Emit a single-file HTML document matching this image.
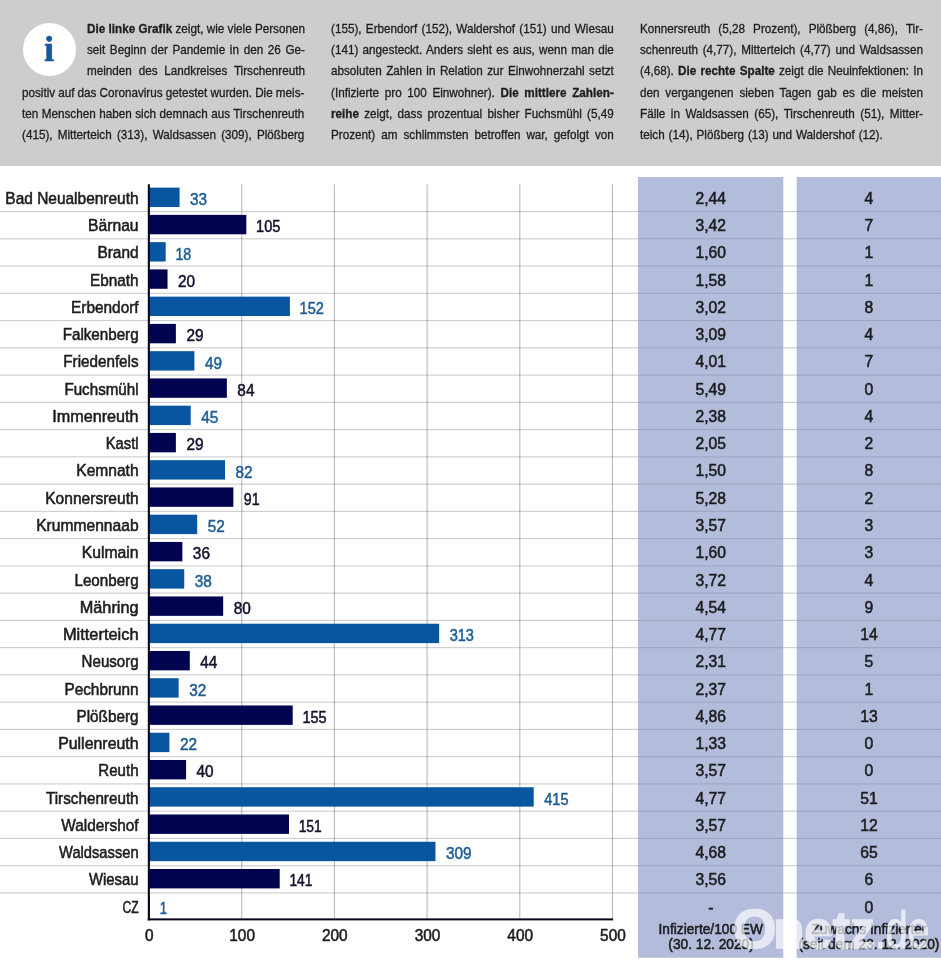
<!DOCTYPE html>
<html lang="de"><head><meta charset="utf-8"><title>Corona im Landkreis Tirschenreuth</title>
<style>
html,body{margin:0;padding:0;background:#fff}
body{width:941px;height:960px;position:relative;overflow:hidden;font-family:"Liberation Sans",sans-serif}
.hdr{position:absolute;left:0;top:0;width:941px;height:165.6px;background:#cecdcb}
.ico{position:absolute;left:22.5px;top:22.5px;width:53px;height:53px;border-radius:50%;background:#fff}
.ico span{position:absolute;left:0;top:7.8px;width:53px;text-align:center;font-family:"Liberation Serif",serif;font-weight:bold;font-size:35px;line-height:40px;color:#15589a;-webkit-text-stroke:0.7px #15589a}
.ln{-webkit-text-stroke:0.3px #1d1d1f;position:absolute;height:20px;line-height:20px;font-size:12.2px;color:#1d1d1f;white-space:nowrap;text-align:justify;text-align-last:justify;word-spacing:-1.0px;transform:scaleX(0.96);transform-origin:0 0}
.ln b{font-weight:bold}
svg{position:absolute;left:0;top:0}
svg text{font-family:"Liberation Sans",sans-serif}
</style></head><body>
<div class="hdr"></div>
<div class="ico"><span>i</span></div>
<div class="ln" style="left:86.6px;top:18.90px;width:227.08px"><b>Die linke Grafik</b> zeigt, wie viele Personen</div>
<div class="ln" style="left:86.6px;top:40.12px;width:227.08px">seit Beginn der Pandemie in den 26 Ge-</div>
<div class="ln" style="left:86.6px;top:61.34px;width:227.08px">meinden des Landkreises Tirschenreuth</div>
<div class="ln" style="left:22.2px;top:82.56px;width:294.17px">positiv auf das Coronavirus getestet wurden. Die meis-</div>
<div class="ln" style="left:22.2px;top:103.78px;width:294.17px">ten Menschen haben sich demnach aus Tirschenreuth</div>
<div class="ln" style="left:22.2px;top:125.00px;width:294.17px">(415), Mitterteich (313), Waldsassen (309), Plößberg</div>
<div class="ln" style="left:330.9px;top:18.90px;width:294.58px">(155), Erbendorf (152), Waldershof (151) und Wiesau</div>
<div class="ln" style="left:330.9px;top:40.12px;width:294.58px">(141) angesteckt. Anders sieht es aus, wenn man die</div>
<div class="ln" style="left:330.9px;top:61.34px;width:294.58px">absoluten Zahlen in Relation zur Einwohnerzahl setzt</div>
<div class="ln" style="left:330.9px;top:82.56px;width:294.58px">(Infizierte pro 100 Einwohner). <b>Die mittlere Zahlen-</b></div>
<div class="ln" style="left:330.9px;top:103.78px;width:294.58px"><b>reihe</b> zeigt, dass prozentual bisher Fuchsmühl (5,49</div>
<div class="ln" style="left:330.9px;top:125.00px;width:294.58px">Prozent) am schlimmsten betroffen war, gefolgt von</div>
<div class="ln" style="left:639.9px;top:18.90px;width:294.79px">Konnersreuth (5,28 Prozent), Plößberg (4,86), Tir-</div>
<div class="ln" style="left:639.9px;top:40.12px;width:294.79px">schenreuth (4,77), Mitterteich (4,77) und Waldsassen</div>
<div class="ln" style="left:639.9px;top:61.34px;width:294.79px">(4,68). <b>Die rechte Spalte</b> zeigt die Neuinfektionen: In</div>
<div class="ln" style="left:639.9px;top:82.56px;width:294.79px">den vergangenen sieben Tagen gab es die meisten</div>
<div class="ln" style="left:639.9px;top:103.78px;width:294.79px">Fälle in Waldsassen (65), Tirschenreuth (51), Mitter-</div>
<div class="ln" style="left:639.9px;top:125.00px;width:252.81px">teich (14), Plößberg (13) und Waldershof (12).</div>
<svg width="941" height="960" viewBox="0 0 941 960">
<rect x="638" y="177" width="145.3" height="780.8" fill="#b3bddb"/>
<rect x="796.7" y="177" width="144.3" height="780.8" fill="#b3bddb"/>
<rect x="0" y="211.00" width="638.0" height="1.1" fill="#000" fill-opacity="0.2"/>
<rect x="638" y="211.00" width="145.3" height="1.1" fill="#000" fill-opacity="0.12"/>
<rect x="783.3" y="211.00" width="13.4" height="1.1" fill="#000" fill-opacity="0.2"/>
<rect x="796.7" y="211.00" width="144.3" height="1.1" fill="#000" fill-opacity="0.12"/>
<rect x="0" y="238.26" width="638.0" height="1.1" fill="#000" fill-opacity="0.2"/>
<rect x="638" y="238.26" width="145.3" height="1.1" fill="#000" fill-opacity="0.12"/>
<rect x="783.3" y="238.26" width="13.4" height="1.1" fill="#000" fill-opacity="0.2"/>
<rect x="796.7" y="238.26" width="144.3" height="1.1" fill="#000" fill-opacity="0.12"/>
<rect x="0" y="265.51" width="638.0" height="1.1" fill="#000" fill-opacity="0.2"/>
<rect x="638" y="265.51" width="145.3" height="1.1" fill="#000" fill-opacity="0.12"/>
<rect x="783.3" y="265.51" width="13.4" height="1.1" fill="#000" fill-opacity="0.2"/>
<rect x="796.7" y="265.51" width="144.3" height="1.1" fill="#000" fill-opacity="0.12"/>
<rect x="0" y="292.77" width="638.0" height="1.1" fill="#000" fill-opacity="0.2"/>
<rect x="638" y="292.77" width="145.3" height="1.1" fill="#000" fill-opacity="0.12"/>
<rect x="783.3" y="292.77" width="13.4" height="1.1" fill="#000" fill-opacity="0.2"/>
<rect x="796.7" y="292.77" width="144.3" height="1.1" fill="#000" fill-opacity="0.12"/>
<rect x="0" y="320.03" width="638.0" height="1.1" fill="#000" fill-opacity="0.2"/>
<rect x="638" y="320.03" width="145.3" height="1.1" fill="#000" fill-opacity="0.12"/>
<rect x="783.3" y="320.03" width="13.4" height="1.1" fill="#000" fill-opacity="0.2"/>
<rect x="796.7" y="320.03" width="144.3" height="1.1" fill="#000" fill-opacity="0.12"/>
<rect x="0" y="347.28" width="638.0" height="1.1" fill="#000" fill-opacity="0.2"/>
<rect x="638" y="347.28" width="145.3" height="1.1" fill="#000" fill-opacity="0.12"/>
<rect x="783.3" y="347.28" width="13.4" height="1.1" fill="#000" fill-opacity="0.2"/>
<rect x="796.7" y="347.28" width="144.3" height="1.1" fill="#000" fill-opacity="0.12"/>
<rect x="0" y="374.54" width="638.0" height="1.1" fill="#000" fill-opacity="0.2"/>
<rect x="638" y="374.54" width="145.3" height="1.1" fill="#000" fill-opacity="0.12"/>
<rect x="783.3" y="374.54" width="13.4" height="1.1" fill="#000" fill-opacity="0.2"/>
<rect x="796.7" y="374.54" width="144.3" height="1.1" fill="#000" fill-opacity="0.12"/>
<rect x="0" y="401.79" width="638.0" height="1.1" fill="#000" fill-opacity="0.2"/>
<rect x="638" y="401.79" width="145.3" height="1.1" fill="#000" fill-opacity="0.12"/>
<rect x="783.3" y="401.79" width="13.4" height="1.1" fill="#000" fill-opacity="0.2"/>
<rect x="796.7" y="401.79" width="144.3" height="1.1" fill="#000" fill-opacity="0.12"/>
<rect x="0" y="429.05" width="638.0" height="1.1" fill="#000" fill-opacity="0.2"/>
<rect x="638" y="429.05" width="145.3" height="1.1" fill="#000" fill-opacity="0.12"/>
<rect x="783.3" y="429.05" width="13.4" height="1.1" fill="#000" fill-opacity="0.2"/>
<rect x="796.7" y="429.05" width="144.3" height="1.1" fill="#000" fill-opacity="0.12"/>
<rect x="0" y="456.30" width="638.0" height="1.1" fill="#000" fill-opacity="0.2"/>
<rect x="638" y="456.30" width="145.3" height="1.1" fill="#000" fill-opacity="0.12"/>
<rect x="783.3" y="456.30" width="13.4" height="1.1" fill="#000" fill-opacity="0.2"/>
<rect x="796.7" y="456.30" width="144.3" height="1.1" fill="#000" fill-opacity="0.12"/>
<rect x="0" y="483.56" width="638.0" height="1.1" fill="#000" fill-opacity="0.2"/>
<rect x="638" y="483.56" width="145.3" height="1.1" fill="#000" fill-opacity="0.12"/>
<rect x="783.3" y="483.56" width="13.4" height="1.1" fill="#000" fill-opacity="0.2"/>
<rect x="796.7" y="483.56" width="144.3" height="1.1" fill="#000" fill-opacity="0.12"/>
<rect x="0" y="510.81" width="638.0" height="1.1" fill="#000" fill-opacity="0.2"/>
<rect x="638" y="510.81" width="145.3" height="1.1" fill="#000" fill-opacity="0.12"/>
<rect x="783.3" y="510.81" width="13.4" height="1.1" fill="#000" fill-opacity="0.2"/>
<rect x="796.7" y="510.81" width="144.3" height="1.1" fill="#000" fill-opacity="0.12"/>
<rect x="0" y="538.07" width="638.0" height="1.1" fill="#000" fill-opacity="0.2"/>
<rect x="638" y="538.07" width="145.3" height="1.1" fill="#000" fill-opacity="0.12"/>
<rect x="783.3" y="538.07" width="13.4" height="1.1" fill="#000" fill-opacity="0.2"/>
<rect x="796.7" y="538.07" width="144.3" height="1.1" fill="#000" fill-opacity="0.12"/>
<rect x="0" y="565.32" width="638.0" height="1.1" fill="#000" fill-opacity="0.2"/>
<rect x="638" y="565.32" width="145.3" height="1.1" fill="#000" fill-opacity="0.12"/>
<rect x="783.3" y="565.32" width="13.4" height="1.1" fill="#000" fill-opacity="0.2"/>
<rect x="796.7" y="565.32" width="144.3" height="1.1" fill="#000" fill-opacity="0.12"/>
<rect x="0" y="592.58" width="638.0" height="1.1" fill="#000" fill-opacity="0.2"/>
<rect x="638" y="592.58" width="145.3" height="1.1" fill="#000" fill-opacity="0.12"/>
<rect x="783.3" y="592.58" width="13.4" height="1.1" fill="#000" fill-opacity="0.2"/>
<rect x="796.7" y="592.58" width="144.3" height="1.1" fill="#000" fill-opacity="0.12"/>
<rect x="0" y="619.83" width="638.0" height="1.1" fill="#000" fill-opacity="0.2"/>
<rect x="638" y="619.83" width="145.3" height="1.1" fill="#000" fill-opacity="0.12"/>
<rect x="783.3" y="619.83" width="13.4" height="1.1" fill="#000" fill-opacity="0.2"/>
<rect x="796.7" y="619.83" width="144.3" height="1.1" fill="#000" fill-opacity="0.12"/>
<rect x="0" y="647.09" width="638.0" height="1.1" fill="#000" fill-opacity="0.2"/>
<rect x="638" y="647.09" width="145.3" height="1.1" fill="#000" fill-opacity="0.12"/>
<rect x="783.3" y="647.09" width="13.4" height="1.1" fill="#000" fill-opacity="0.2"/>
<rect x="796.7" y="647.09" width="144.3" height="1.1" fill="#000" fill-opacity="0.12"/>
<rect x="0" y="674.34" width="638.0" height="1.1" fill="#000" fill-opacity="0.2"/>
<rect x="638" y="674.34" width="145.3" height="1.1" fill="#000" fill-opacity="0.12"/>
<rect x="783.3" y="674.34" width="13.4" height="1.1" fill="#000" fill-opacity="0.2"/>
<rect x="796.7" y="674.34" width="144.3" height="1.1" fill="#000" fill-opacity="0.12"/>
<rect x="0" y="701.60" width="638.0" height="1.1" fill="#000" fill-opacity="0.2"/>
<rect x="638" y="701.60" width="145.3" height="1.1" fill="#000" fill-opacity="0.12"/>
<rect x="783.3" y="701.60" width="13.4" height="1.1" fill="#000" fill-opacity="0.2"/>
<rect x="796.7" y="701.60" width="144.3" height="1.1" fill="#000" fill-opacity="0.12"/>
<rect x="0" y="728.85" width="638.0" height="1.1" fill="#000" fill-opacity="0.2"/>
<rect x="638" y="728.85" width="145.3" height="1.1" fill="#000" fill-opacity="0.12"/>
<rect x="783.3" y="728.85" width="13.4" height="1.1" fill="#000" fill-opacity="0.2"/>
<rect x="796.7" y="728.85" width="144.3" height="1.1" fill="#000" fill-opacity="0.12"/>
<rect x="0" y="756.11" width="638.0" height="1.1" fill="#000" fill-opacity="0.2"/>
<rect x="638" y="756.11" width="145.3" height="1.1" fill="#000" fill-opacity="0.12"/>
<rect x="783.3" y="756.11" width="13.4" height="1.1" fill="#000" fill-opacity="0.2"/>
<rect x="796.7" y="756.11" width="144.3" height="1.1" fill="#000" fill-opacity="0.12"/>
<rect x="0" y="783.36" width="638.0" height="1.1" fill="#000" fill-opacity="0.2"/>
<rect x="638" y="783.36" width="145.3" height="1.1" fill="#000" fill-opacity="0.12"/>
<rect x="783.3" y="783.36" width="13.4" height="1.1" fill="#000" fill-opacity="0.2"/>
<rect x="796.7" y="783.36" width="144.3" height="1.1" fill="#000" fill-opacity="0.12"/>
<rect x="0" y="810.62" width="638.0" height="1.1" fill="#000" fill-opacity="0.2"/>
<rect x="638" y="810.62" width="145.3" height="1.1" fill="#000" fill-opacity="0.12"/>
<rect x="783.3" y="810.62" width="13.4" height="1.1" fill="#000" fill-opacity="0.2"/>
<rect x="796.7" y="810.62" width="144.3" height="1.1" fill="#000" fill-opacity="0.12"/>
<rect x="0" y="837.87" width="638.0" height="1.1" fill="#000" fill-opacity="0.2"/>
<rect x="638" y="837.87" width="145.3" height="1.1" fill="#000" fill-opacity="0.12"/>
<rect x="783.3" y="837.87" width="13.4" height="1.1" fill="#000" fill-opacity="0.2"/>
<rect x="796.7" y="837.87" width="144.3" height="1.1" fill="#000" fill-opacity="0.12"/>
<rect x="0" y="865.12" width="638.0" height="1.1" fill="#000" fill-opacity="0.2"/>
<rect x="638" y="865.12" width="145.3" height="1.1" fill="#000" fill-opacity="0.12"/>
<rect x="783.3" y="865.12" width="13.4" height="1.1" fill="#000" fill-opacity="0.2"/>
<rect x="796.7" y="865.12" width="144.3" height="1.1" fill="#000" fill-opacity="0.12"/>
<rect x="0" y="892.38" width="638.0" height="1.1" fill="#000" fill-opacity="0.2"/>
<rect x="638" y="892.38" width="145.3" height="1.1" fill="#000" fill-opacity="0.12"/>
<rect x="783.3" y="892.38" width="13.4" height="1.1" fill="#000" fill-opacity="0.2"/>
<rect x="796.7" y="892.38" width="144.3" height="1.1" fill="#000" fill-opacity="0.12"/>
<rect x="241.10" y="184.3" width="1.2" height="735.88" fill="#000" fill-opacity="0.25"/>
<rect x="333.80" y="184.3" width="1.2" height="735.88" fill="#000" fill-opacity="0.25"/>
<rect x="426.50" y="184.3" width="1.2" height="735.88" fill="#000" fill-opacity="0.25"/>
<rect x="519.20" y="184.3" width="1.2" height="735.88" fill="#000" fill-opacity="0.25"/>
<rect x="611.90" y="184.3" width="1.2" height="735.88" fill="#000" fill-opacity="0.25"/>
<rect x="149.0" y="187.63" width="30.59" height="19.4" fill="#0856a0"/>
<text transform="translate(138.60 203.93) scale(0.9554 1)" font-size="16.2" text-anchor="end" fill="#1d1d1f" stroke="#1d1d1f" stroke-width="0.55">Bad Neualbenreuth</text>
<text transform="translate(190.09 205.03) scale(0.965 1)" font-size="15.9" text-anchor="start" fill="#1f5d94" stroke="#1f5d94" stroke-width="0.5">33</text>
<text transform="translate(710.80 203.93) scale(0.97 1)" font-size="16.2" text-anchor="middle" fill="#1d1d1f" stroke="#1d1d1f" stroke-width="0.55">2,44</text>
<text transform="translate(868.90 203.93) scale(0.97 1)" font-size="16.2" text-anchor="middle" fill="#1d1d1f" stroke="#1d1d1f" stroke-width="0.55">4</text>
<rect x="149.0" y="214.88" width="97.34" height="19.4" fill="#020450"/>
<text transform="translate(138.60 231.18) scale(0.9685 1)" font-size="16.2" text-anchor="end" fill="#1d1d1f" stroke="#1d1d1f" stroke-width="0.55">Bärnau</text>
<text transform="translate(256.04 232.28) scale(0.9167 1)" font-size="15.9" text-anchor="start" fill="#12122e" stroke="#12122e" stroke-width="0.5">105</text>
<text transform="translate(710.80 231.18) scale(0.97 1)" font-size="16.2" text-anchor="middle" fill="#1d1d1f" stroke="#1d1d1f" stroke-width="0.55">3,42</text>
<text transform="translate(868.90 231.18) scale(0.97 1)" font-size="16.2" text-anchor="middle" fill="#1d1d1f" stroke="#1d1d1f" stroke-width="0.55">7</text>
<rect x="149.0" y="242.14" width="16.69" height="19.4" fill="#0856a0"/>
<text transform="translate(138.60 258.44) scale(0.9526 1)" font-size="16.2" text-anchor="end" fill="#1d1d1f" stroke="#1d1d1f" stroke-width="0.55">Brand</text>
<text transform="translate(175.39 259.54) scale(0.8926 1)" font-size="15.9" text-anchor="start" fill="#1f5d94" stroke="#1f5d94" stroke-width="0.5">18</text>
<text transform="translate(710.80 258.44) scale(0.97 1)" font-size="16.2" text-anchor="middle" fill="#1d1d1f" stroke="#1d1d1f" stroke-width="0.55">1,60</text>
<text transform="translate(868.90 258.44) scale(0.97 1)" font-size="16.2" text-anchor="middle" fill="#1d1d1f" stroke="#1d1d1f" stroke-width="0.55">1</text>
<rect x="149.0" y="269.39" width="18.54" height="19.4" fill="#020450"/>
<text transform="translate(138.60 285.69) scale(0.947 1)" font-size="16.2" text-anchor="end" fill="#1d1d1f" stroke="#1d1d1f" stroke-width="0.55">Ebnath</text>
<text transform="translate(178.04 286.79) scale(0.965 1)" font-size="15.9" text-anchor="start" fill="#12122e" stroke="#12122e" stroke-width="0.5">20</text>
<text transform="translate(710.80 285.69) scale(0.97 1)" font-size="16.2" text-anchor="middle" fill="#1d1d1f" stroke="#1d1d1f" stroke-width="0.55">1,58</text>
<text transform="translate(868.90 285.69) scale(0.97 1)" font-size="16.2" text-anchor="middle" fill="#1d1d1f" stroke="#1d1d1f" stroke-width="0.55">1</text>
<rect x="149.0" y="296.65" width="140.90" height="19.4" fill="#0856a0"/>
<text transform="translate(138.60 312.95) scale(0.9498 1)" font-size="16.2" text-anchor="end" fill="#1d1d1f" stroke="#1d1d1f" stroke-width="0.55">Erbendorf</text>
<text transform="translate(299.60 314.05) scale(0.9167 1)" font-size="15.9" text-anchor="start" fill="#1f5d94" stroke="#1f5d94" stroke-width="0.5">152</text>
<text transform="translate(710.80 312.95) scale(0.97 1)" font-size="16.2" text-anchor="middle" fill="#1d1d1f" stroke="#1d1d1f" stroke-width="0.55">3,02</text>
<text transform="translate(868.90 312.95) scale(0.97 1)" font-size="16.2" text-anchor="middle" fill="#1d1d1f" stroke="#1d1d1f" stroke-width="0.55">8</text>
<rect x="149.0" y="323.90" width="26.88" height="19.4" fill="#020450"/>
<text transform="translate(138.60 340.20) scale(0.9377 1)" font-size="16.2" text-anchor="end" fill="#1d1d1f" stroke="#1d1d1f" stroke-width="0.55">Falkenberg</text>
<text transform="translate(186.38 341.30) scale(0.965 1)" font-size="15.9" text-anchor="start" fill="#12122e" stroke="#12122e" stroke-width="0.5">29</text>
<text transform="translate(710.80 340.20) scale(0.97 1)" font-size="16.2" text-anchor="middle" fill="#1d1d1f" stroke="#1d1d1f" stroke-width="0.55">3,09</text>
<text transform="translate(868.90 340.20) scale(0.97 1)" font-size="16.2" text-anchor="middle" fill="#1d1d1f" stroke="#1d1d1f" stroke-width="0.55">4</text>
<rect x="149.0" y="351.16" width="45.42" height="19.4" fill="#0856a0"/>
<text transform="translate(138.60 367.46) scale(0.9405 1)" font-size="16.2" text-anchor="end" fill="#1d1d1f" stroke="#1d1d1f" stroke-width="0.55">Friedenfels</text>
<text transform="translate(204.92 368.56) scale(0.965 1)" font-size="15.9" text-anchor="start" fill="#1f5d94" stroke="#1f5d94" stroke-width="0.5">49</text>
<text transform="translate(710.80 367.46) scale(0.97 1)" font-size="16.2" text-anchor="middle" fill="#1d1d1f" stroke="#1d1d1f" stroke-width="0.55">4,01</text>
<text transform="translate(868.90 367.46) scale(0.97 1)" font-size="16.2" text-anchor="middle" fill="#1d1d1f" stroke="#1d1d1f" stroke-width="0.55">7</text>
<rect x="149.0" y="378.41" width="77.87" height="19.4" fill="#020450"/>
<text transform="translate(138.60 394.71) scale(0.9367 1)" font-size="16.2" text-anchor="end" fill="#1d1d1f" stroke="#1d1d1f" stroke-width="0.55">Fuchsmühl</text>
<text transform="translate(237.37 395.81) scale(0.965 1)" font-size="15.9" text-anchor="start" fill="#12122e" stroke="#12122e" stroke-width="0.5">84</text>
<text transform="translate(710.80 394.71) scale(0.97 1)" font-size="16.2" text-anchor="middle" fill="#1d1d1f" stroke="#1d1d1f" stroke-width="0.55">5,49</text>
<text transform="translate(868.90 394.71) scale(0.97 1)" font-size="16.2" text-anchor="middle" fill="#1d1d1f" stroke="#1d1d1f" stroke-width="0.55">0</text>
<rect x="149.0" y="405.67" width="41.72" height="19.4" fill="#0856a0"/>
<text transform="translate(138.60 421.97) scale(1.0002 1)" font-size="16.2" text-anchor="end" fill="#1d1d1f" stroke="#1d1d1f" stroke-width="0.55">Immenreuth</text>
<text transform="translate(201.22 423.07) scale(0.965 1)" font-size="15.9" text-anchor="start" fill="#1f5d94" stroke="#1f5d94" stroke-width="0.5">45</text>
<text transform="translate(710.80 421.97) scale(0.97 1)" font-size="16.2" text-anchor="middle" fill="#1d1d1f" stroke="#1d1d1f" stroke-width="0.55">2,38</text>
<text transform="translate(868.90 421.97) scale(0.97 1)" font-size="16.2" text-anchor="middle" fill="#1d1d1f" stroke="#1d1d1f" stroke-width="0.55">4</text>
<rect x="149.0" y="432.92" width="26.88" height="19.4" fill="#020450"/>
<text transform="translate(138.60 449.22) scale(0.9125 1)" font-size="16.2" text-anchor="end" fill="#1d1d1f" stroke="#1d1d1f" stroke-width="0.55">Kastl</text>
<text transform="translate(186.38 450.32) scale(0.965 1)" font-size="15.9" text-anchor="start" fill="#12122e" stroke="#12122e" stroke-width="0.5">29</text>
<text transform="translate(710.80 449.22) scale(0.97 1)" font-size="16.2" text-anchor="middle" fill="#1d1d1f" stroke="#1d1d1f" stroke-width="0.55">2,05</text>
<text transform="translate(868.90 449.22) scale(0.97 1)" font-size="16.2" text-anchor="middle" fill="#1d1d1f" stroke="#1d1d1f" stroke-width="0.55">2</text>
<rect x="149.0" y="460.18" width="76.01" height="19.4" fill="#0856a0"/>
<text transform="translate(138.60 476.48) scale(0.9619 1)" font-size="16.2" text-anchor="end" fill="#1d1d1f" stroke="#1d1d1f" stroke-width="0.55">Kemnath</text>
<text transform="translate(235.51 477.58) scale(0.965 1)" font-size="15.9" text-anchor="start" fill="#1f5d94" stroke="#1f5d94" stroke-width="0.5">82</text>
<text transform="translate(710.80 476.48) scale(0.97 1)" font-size="16.2" text-anchor="middle" fill="#1d1d1f" stroke="#1d1d1f" stroke-width="0.55">1,50</text>
<text transform="translate(868.90 476.48) scale(0.97 1)" font-size="16.2" text-anchor="middle" fill="#1d1d1f" stroke="#1d1d1f" stroke-width="0.55">8</text>
<rect x="149.0" y="487.43" width="84.36" height="19.4" fill="#020450"/>
<text transform="translate(138.60 503.73) scale(0.9601 1)" font-size="16.2" text-anchor="end" fill="#1d1d1f" stroke="#1d1d1f" stroke-width="0.55">Konnersreuth</text>
<text transform="translate(243.86 504.83) scale(0.8926 1)" font-size="15.9" text-anchor="start" fill="#12122e" stroke="#12122e" stroke-width="0.5">91</text>
<text transform="translate(710.80 503.73) scale(0.97 1)" font-size="16.2" text-anchor="middle" fill="#1d1d1f" stroke="#1d1d1f" stroke-width="0.55">5,28</text>
<text transform="translate(868.90 503.73) scale(0.97 1)" font-size="16.2" text-anchor="middle" fill="#1d1d1f" stroke="#1d1d1f" stroke-width="0.55">2</text>
<rect x="149.0" y="514.69" width="48.20" height="19.4" fill="#0856a0"/>
<text transform="translate(138.60 530.99) scale(0.9647 1)" font-size="16.2" text-anchor="end" fill="#1d1d1f" stroke="#1d1d1f" stroke-width="0.55">Krummennaab</text>
<text transform="translate(207.70 532.09) scale(0.965 1)" font-size="15.9" text-anchor="start" fill="#1f5d94" stroke="#1f5d94" stroke-width="0.5">52</text>
<text transform="translate(710.80 530.99) scale(0.97 1)" font-size="16.2" text-anchor="middle" fill="#1d1d1f" stroke="#1d1d1f" stroke-width="0.55">3,57</text>
<text transform="translate(868.90 530.99) scale(0.97 1)" font-size="16.2" text-anchor="middle" fill="#1d1d1f" stroke="#1d1d1f" stroke-width="0.55">3</text>
<rect x="149.0" y="541.94" width="33.37" height="19.4" fill="#020450"/>
<text transform="translate(138.60 558.24) scale(0.9722 1)" font-size="16.2" text-anchor="end" fill="#1d1d1f" stroke="#1d1d1f" stroke-width="0.55">Kulmain</text>
<text transform="translate(192.87 559.34) scale(0.965 1)" font-size="15.9" text-anchor="start" fill="#12122e" stroke="#12122e" stroke-width="0.5">36</text>
<text transform="translate(710.80 558.24) scale(0.97 1)" font-size="16.2" text-anchor="middle" fill="#1d1d1f" stroke="#1d1d1f" stroke-width="0.55">1,60</text>
<text transform="translate(868.90 558.24) scale(0.97 1)" font-size="16.2" text-anchor="middle" fill="#1d1d1f" stroke="#1d1d1f" stroke-width="0.55">3</text>
<rect x="149.0" y="569.20" width="35.23" height="19.4" fill="#0856a0"/>
<text transform="translate(138.60 585.50) scale(0.9377 1)" font-size="16.2" text-anchor="end" fill="#1d1d1f" stroke="#1d1d1f" stroke-width="0.55">Leonberg</text>
<text transform="translate(194.73 586.60) scale(0.965 1)" font-size="15.9" text-anchor="start" fill="#1f5d94" stroke="#1f5d94" stroke-width="0.5">38</text>
<text transform="translate(710.80 585.50) scale(0.97 1)" font-size="16.2" text-anchor="middle" fill="#1d1d1f" stroke="#1d1d1f" stroke-width="0.55">3,72</text>
<text transform="translate(868.90 585.50) scale(0.97 1)" font-size="16.2" text-anchor="middle" fill="#1d1d1f" stroke="#1d1d1f" stroke-width="0.55">4</text>
<rect x="149.0" y="596.45" width="74.16" height="19.4" fill="#020450"/>
<text transform="translate(138.60 612.75) scale(1.0067 1)" font-size="16.2" text-anchor="end" fill="#1d1d1f" stroke="#1d1d1f" stroke-width="0.55">Mähring</text>
<text transform="translate(233.66 613.85) scale(0.965 1)" font-size="15.9" text-anchor="start" fill="#12122e" stroke="#12122e" stroke-width="0.5">80</text>
<text transform="translate(710.80 612.75) scale(0.97 1)" font-size="16.2" text-anchor="middle" fill="#1d1d1f" stroke="#1d1d1f" stroke-width="0.55">4,54</text>
<text transform="translate(868.90 612.75) scale(0.97 1)" font-size="16.2" text-anchor="middle" fill="#1d1d1f" stroke="#1d1d1f" stroke-width="0.55">9</text>
<rect x="149.0" y="623.71" width="290.15" height="19.4" fill="#0856a0"/>
<text transform="translate(138.60 640.01) scale(1.0142 1)" font-size="16.2" text-anchor="end" fill="#1d1d1f" stroke="#1d1d1f" stroke-width="0.55">Mitterteich</text>
<text transform="translate(449.65 641.11) scale(0.9167 1)" font-size="15.9" text-anchor="start" fill="#1f5d94" stroke="#1f5d94" stroke-width="0.5">313</text>
<text transform="translate(710.80 640.01) scale(0.97 1)" font-size="16.2" text-anchor="middle" fill="#1d1d1f" stroke="#1d1d1f" stroke-width="0.55">4,77</text>
<text transform="translate(868.90 640.01) scale(0.97 1)" font-size="16.2" text-anchor="middle" fill="#1d1d1f" stroke="#1d1d1f" stroke-width="0.55">14</text>
<rect x="149.0" y="650.96" width="40.79" height="19.4" fill="#020450"/>
<text transform="translate(138.60 667.26) scale(0.9311 1)" font-size="16.2" text-anchor="end" fill="#1d1d1f" stroke="#1d1d1f" stroke-width="0.55">Neusorg</text>
<text transform="translate(200.29 668.36) scale(0.965 1)" font-size="15.9" text-anchor="start" fill="#12122e" stroke="#12122e" stroke-width="0.5">44</text>
<text transform="translate(710.80 667.26) scale(0.97 1)" font-size="16.2" text-anchor="middle" fill="#1d1d1f" stroke="#1d1d1f" stroke-width="0.55">2,31</text>
<text transform="translate(868.90 667.26) scale(0.97 1)" font-size="16.2" text-anchor="middle" fill="#1d1d1f" stroke="#1d1d1f" stroke-width="0.55">5</text>
<rect x="149.0" y="678.22" width="29.66" height="19.4" fill="#0856a0"/>
<text transform="translate(138.60 694.52) scale(0.947 1)" font-size="16.2" text-anchor="end" fill="#1d1d1f" stroke="#1d1d1f" stroke-width="0.55">Pechbrunn</text>
<text transform="translate(189.16 695.62) scale(0.965 1)" font-size="15.9" text-anchor="start" fill="#1f5d94" stroke="#1f5d94" stroke-width="0.5">32</text>
<text transform="translate(710.80 694.52) scale(0.97 1)" font-size="16.2" text-anchor="middle" fill="#1d1d1f" stroke="#1d1d1f" stroke-width="0.55">2,37</text>
<text transform="translate(868.90 694.52) scale(0.97 1)" font-size="16.2" text-anchor="middle" fill="#1d1d1f" stroke="#1d1d1f" stroke-width="0.55">1</text>
<rect x="149.0" y="705.47" width="143.69" height="19.4" fill="#020450"/>
<text transform="translate(138.60 721.77) scale(0.9451 1)" font-size="16.2" text-anchor="end" fill="#1d1d1f" stroke="#1d1d1f" stroke-width="0.55">Plößberg</text>
<text transform="translate(302.38 722.87) scale(0.9167 1)" font-size="15.9" text-anchor="start" fill="#12122e" stroke="#12122e" stroke-width="0.5">155</text>
<text transform="translate(710.80 721.77) scale(0.97 1)" font-size="16.2" text-anchor="middle" fill="#1d1d1f" stroke="#1d1d1f" stroke-width="0.55">4,86</text>
<text transform="translate(868.90 721.77) scale(0.97 1)" font-size="16.2" text-anchor="middle" fill="#1d1d1f" stroke="#1d1d1f" stroke-width="0.55">13</text>
<rect x="149.0" y="732.73" width="20.39" height="19.4" fill="#0856a0"/>
<text transform="translate(138.60 749.03) scale(0.9824 1)" font-size="16.2" text-anchor="end" fill="#1d1d1f" stroke="#1d1d1f" stroke-width="0.55">Pullenreuth</text>
<text transform="translate(179.89 750.13) scale(0.965 1)" font-size="15.9" text-anchor="start" fill="#1f5d94" stroke="#1f5d94" stroke-width="0.5">22</text>
<text transform="translate(710.80 749.03) scale(0.97 1)" font-size="16.2" text-anchor="middle" fill="#1d1d1f" stroke="#1d1d1f" stroke-width="0.55">1,33</text>
<text transform="translate(868.90 749.03) scale(0.97 1)" font-size="16.2" text-anchor="middle" fill="#1d1d1f" stroke="#1d1d1f" stroke-width="0.55">0</text>
<rect x="149.0" y="759.98" width="37.08" height="19.4" fill="#020450"/>
<text transform="translate(138.60 776.28) scale(0.933 1)" font-size="16.2" text-anchor="end" fill="#1d1d1f" stroke="#1d1d1f" stroke-width="0.55">Reuth</text>
<text transform="translate(196.58 777.38) scale(0.965 1)" font-size="15.9" text-anchor="start" fill="#12122e" stroke="#12122e" stroke-width="0.5">40</text>
<text transform="translate(710.80 776.28) scale(0.97 1)" font-size="16.2" text-anchor="middle" fill="#1d1d1f" stroke="#1d1d1f" stroke-width="0.55">3,57</text>
<text transform="translate(868.90 776.28) scale(0.97 1)" font-size="16.2" text-anchor="middle" fill="#1d1d1f" stroke="#1d1d1f" stroke-width="0.55">0</text>
<rect x="149.0" y="787.24" width="384.71" height="19.4" fill="#0856a0"/>
<text transform="translate(138.60 803.54) scale(0.9414 1)" font-size="16.2" text-anchor="end" fill="#1d1d1f" stroke="#1d1d1f" stroke-width="0.55">Tirschenreuth</text>
<text transform="translate(544.21 804.64) scale(0.9167 1)" font-size="15.9" text-anchor="start" fill="#1f5d94" stroke="#1f5d94" stroke-width="0.5">415</text>
<text transform="translate(710.80 803.54) scale(0.97 1)" font-size="16.2" text-anchor="middle" fill="#1d1d1f" stroke="#1d1d1f" stroke-width="0.55">4,77</text>
<text transform="translate(868.90 803.54) scale(0.97 1)" font-size="16.2" text-anchor="middle" fill="#1d1d1f" stroke="#1d1d1f" stroke-width="0.55">51</text>
<rect x="149.0" y="814.49" width="139.98" height="19.4" fill="#020450"/>
<text transform="translate(138.60 830.79) scale(0.9517 1)" font-size="16.2" text-anchor="end" fill="#1d1d1f" stroke="#1d1d1f" stroke-width="0.55">Waldershof</text>
<text transform="translate(298.68 831.89) scale(0.8685 1)" font-size="15.9" text-anchor="start" fill="#12122e" stroke="#12122e" stroke-width="0.5">151</text>
<text transform="translate(710.80 830.79) scale(0.97 1)" font-size="16.2" text-anchor="middle" fill="#1d1d1f" stroke="#1d1d1f" stroke-width="0.55">3,57</text>
<text transform="translate(868.90 830.79) scale(0.97 1)" font-size="16.2" text-anchor="middle" fill="#1d1d1f" stroke="#1d1d1f" stroke-width="0.55">12</text>
<rect x="149.0" y="841.75" width="286.44" height="19.4" fill="#0856a0"/>
<text transform="translate(138.60 858.05) scale(0.9078 1)" font-size="16.2" text-anchor="end" fill="#1d1d1f" stroke="#1d1d1f" stroke-width="0.55">Waldsassen</text>
<text transform="translate(445.94 859.15) scale(0.965 1)" font-size="15.9" text-anchor="start" fill="#1f5d94" stroke="#1f5d94" stroke-width="0.5">309</text>
<text transform="translate(710.80 858.05) scale(0.97 1)" font-size="16.2" text-anchor="middle" fill="#1d1d1f" stroke="#1d1d1f" stroke-width="0.55">4,68</text>
<text transform="translate(868.90 858.05) scale(0.97 1)" font-size="16.2" text-anchor="middle" fill="#1d1d1f" stroke="#1d1d1f" stroke-width="0.55">65</text>
<rect x="149.0" y="869.00" width="130.71" height="19.4" fill="#020450"/>
<text transform="translate(138.60 885.30) scale(0.9199 1)" font-size="16.2" text-anchor="end" fill="#1d1d1f" stroke="#1d1d1f" stroke-width="0.55">Wiesau</text>
<text transform="translate(289.41 886.40) scale(0.8685 1)" font-size="15.9" text-anchor="start" fill="#12122e" stroke="#12122e" stroke-width="0.5">141</text>
<text transform="translate(710.80 885.30) scale(0.97 1)" font-size="16.2" text-anchor="middle" fill="#1d1d1f" stroke="#1d1d1f" stroke-width="0.55">3,56</text>
<text transform="translate(868.90 885.30) scale(0.97 1)" font-size="16.2" text-anchor="middle" fill="#1d1d1f" stroke="#1d1d1f" stroke-width="0.55">6</text>
<rect x="149.0" y="896.26" width="0.93" height="19.4" fill="#0856a0"/>
<text transform="translate(138.60 912.56) scale(0.7464 1)" font-size="16.2" text-anchor="end" fill="#1d1d1f" stroke="#1d1d1f" stroke-width="0.55">CZ</text>
<text transform="translate(159.63 913.66) scale(0.8202 1)" font-size="15.9" text-anchor="start" fill="#1f5d94" stroke="#1f5d94" stroke-width="0.5">1</text>
<text transform="translate(710.80 912.56) scale(0.97 1)" font-size="16.2" text-anchor="middle" fill="#1d1d1f" stroke="#1d1d1f" stroke-width="0.55">-</text>
<text transform="translate(868.90 912.56) scale(0.97 1)" font-size="16.2" text-anchor="middle" fill="#1d1d1f" stroke="#1d1d1f" stroke-width="0.55">0</text>
<rect x="147.8" y="184.3" width="2.1" height="736.09" fill="#05061e"/>
<rect x="147.8" y="918.38" width="465.30" height="2" fill="#05061e"/>
<text transform="translate(149.40 941.30) scale(0.95 1)" font-size="16.2" text-anchor="middle" fill="#1d1d1f" stroke="#1d1d1f" stroke-width="0.55">0</text>
<text transform="translate(242.10 941.30) scale(0.95 1)" font-size="16.2" text-anchor="middle" fill="#1d1d1f" stroke="#1d1d1f" stroke-width="0.55">100</text>
<text transform="translate(334.80 941.30) scale(0.95 1)" font-size="16.2" text-anchor="middle" fill="#1d1d1f" stroke="#1d1d1f" stroke-width="0.55">200</text>
<text transform="translate(427.50 941.30) scale(0.95 1)" font-size="16.2" text-anchor="middle" fill="#1d1d1f" stroke="#1d1d1f" stroke-width="0.55">300</text>
<text transform="translate(520.20 941.30) scale(0.95 1)" font-size="16.2" text-anchor="middle" fill="#1d1d1f" stroke="#1d1d1f" stroke-width="0.55">400</text>
<text transform="translate(612.90 941.30) scale(0.95 1)" font-size="16.2" text-anchor="middle" fill="#1d1d1f" stroke="#1d1d1f" stroke-width="0.55">500</text>
<text transform="translate(710.70 933.90) scale(0.96 1)" font-size="14.3" text-anchor="middle" fill="#1d1d1f" stroke="#1d1d1f" stroke-width="0.55">Infizierte/100 EW</text>
<text transform="translate(711.00 949.30) scale(0.96 1)" font-size="14.3" text-anchor="middle" fill="#1d1d1f" stroke="#1d1d1f" stroke-width="0.55">(30. 12. 2020)</text>
<text transform="translate(868.90 933.90) scale(0.96 1)" font-size="14.3" text-anchor="middle" fill="#1d1d1f" stroke="#1d1d1f" stroke-width="0.55">Zuwachs Infizierter</text>
<text transform="translate(868.90 949.30) scale(0.96 1)" font-size="14.3" text-anchor="middle" fill="#1d1d1f" stroke="#1d1d1f" stroke-width="0.55">(seit dem 23. 12. 2020)</text>
<g opacity="0.68"><text y="948" fill="#fff" stroke="#fff" stroke-linejoin="round"><tspan x="732.7" font-size="56.4" font-weight="bold" stroke-width="1.6">O</tspan><tspan x="773.2" font-size="51" font-weight="bold" stroke-width="1.6">netz</tspan><tspan x="874.7" font-size="51" font-weight="normal" stroke-width="0.8" textLength="54.9" lengthAdjust="spacingAndGlyphs">.de</tspan></text></g>
</svg>
</body></html>
